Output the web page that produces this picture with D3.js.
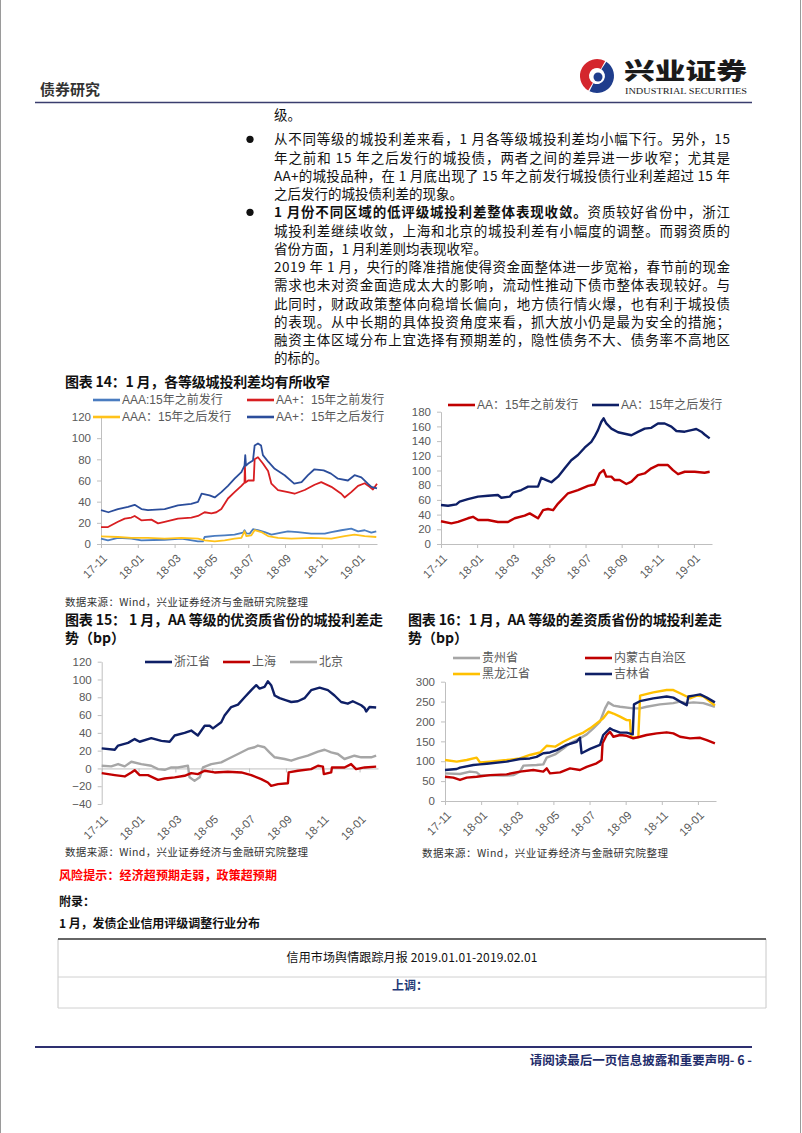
<!DOCTYPE html>
<html><head><meta charset="utf-8">
<script src="https://cdn.jsdelivr.net/npm/d3@7"></script>
<style>
html,body{margin:0;padding:0;background:#fff;}
svg{display:block;}
</style></head>
<body>
<svg id="page" width="802" height="1133"></svg>
<script>
// ---------------- DATA ----------------
// x-axis: month offset from 2017-11 (0) to 2019-02 (15)
const tickMonths = [0, 2, 4, 6, 8, 10, 12, 14];
const tickLabels = ["17-11", "18-01", "18-03", "18-05", "18-07", "18-09", "18-11", "19-01"];

// Chart 14
const aaaBefore = [[0,5],[0.38,3.5],[0.92,5.7],[1.65,5],[2.19,3.5],[3.46,4],[4.37,5],[5.27,2.5],[5.54,2.5],[5.63,6.6],[6.18,7.6],[6.72,8.2],[7.26,8.8],[7.72,10.7],[7.8,13],[7.9,10],[8.08,9.8],[8.26,14],[8.53,13],[8.9,11.3],[9.26,8.8],[9.8,10.7],[10.16,12],[10.7,11.3],[11.43,9.8],[12.16,9.8],[12.52,11.3],[13.06,13],[13.6,14.5],[13.97,12],[14.33,13],[14.69,10.7],[14.96,12]];
const aaPlusBefore = [[0,16],[0.38,16],[0.92,21],[1.29,24],[1.65,25],[1.83,26.5],[2.19,22.4],[2.74,23],[3.1,19.5],[3.46,21],[4.18,24],[4.91,25],[5.27,26.5],[5.63,30],[6.0,29],[6.27,30],[6.54,33],[6.9,43],[7.26,49],[7.63,55],[7.8,58],[7.82,75],[7.85,58],[8.0,60],[8.3,60],[8.35,80],[8.53,82],[8.8,76],[9.08,69],[9.26,57],[9.62,51],[10.16,49],[10.52,47.5],[11.07,51],[11.61,56],[11.97,58.5],[12.52,54],[13.06,47.5],[13.24,44],[13.6,49],[13.97,55],[14.33,57.4],[14.6,54],[14.78,51.5],[15,57]];
const aaaAfter = [[0,7.2],[0.92,6.6],[1.65,5.7],[2.55,5.7],[3.46,5],[4.37,5.7],[5.27,5],[5.63,3.5],[6.18,2.5],[6.72,3.5],[7.26,5],[7.63,5.7],[7.8,12],[7.9,7.5],[8.17,8.2],[8.35,13],[8.71,11.3],[9.08,7.5],[9.62,5.7],[10.34,5],[11.43,5.7],[12.52,5],[13.24,7.5],[13.78,8.8],[14.33,7.5],[14.96,6.6]];
const aaPlusAfter = [[0,32],[0.4,30],[0.92,33],[1.47,35],[1.83,37],[2.2,33],[2.55,32],[3.46,33],[4.18,36.5],[4.9,38],[5.27,39.7],[5.47,47.5],[5.9,46],[6.18,44],[6.54,49],[6.9,55],[7.26,61.7],[7.63,68],[7.8,74],[7.84,84],[7.88,74],[8.0,76],[8.26,79],[8.35,93],[8.53,95],[8.7,93],[8.8,84],[9.1,77.5],[9.44,71],[9.98,65],[10.5,57],[10.9,58.5],[11.25,65],[11.6,70.6],[12.1,69.6],[12.5,66.5],[12.88,61.7],[13.42,60],[13.78,65],[14.15,63],[14.5,57],[14.7,54],[15,52.5]];

// Top-right chart (AA)
const aaBefore = [[0,31],[0.57,28],[0.94,30],[1.49,35],[1.77,37],[2.05,32.6],[2.6,32.6],[3.15,30],[3.71,30],[4.08,35],[4.63,38.5],[4.91,41.7],[5.37,35],[5.65,46],[5.92,47.6],[6.2,46],[6.48,55],[7.03,69],[7.58,73.4],[8.14,79],[8.5,81],[8.78,96],[9.0,100.6],[9.15,91.6],[9.43,91.6],[9.61,87],[9.89,87],[10.26,81.6],[10.54,84.8],[10.9,93.8],[11.27,96],[11.64,103],[12.01,107.4],[12.56,107.4],[12.84,100.6],[13.12,95],[13.49,98.3],[14.04,98.3],[14.59,97],[14.87,98.3]];
const aaAfter = [[0,53],[0.39,52],[0.85,54],[1.03,57.6],[1.49,61],[2.05,64.4],[2.6,65.7],[3.15,66.6],[3.34,63],[3.8,64.4],[3.99,70],[4.45,73.4],[4.82,78],[5.37,78],[5.55,90],[5.83,87],[6.11,84],[6.48,91.6],[6.85,103],[7.21,114],[7.58,121],[7.95,131],[8.32,139],[8.5,146],[8.69,155],[8.87,166],[9.0,171],[9.15,164],[9.43,157],[9.8,152],[10.17,150],[10.54,148],[10.9,152.6],[11.27,157],[11.64,158],[12.01,164],[12.38,164],[12.75,159.6],[13.03,153.7],[13.49,152.8],[13.86,155],[14.13,156.4],[14.41,152.8],[14.59,149],[14.87,143.7]];

// Chart 15
const zhejiang = [[0,22.6],[0.71,21],[0.89,25.7],[1.43,28.7],[1.79,33],[2.06,30],[2.69,34],[3.24,31],[3.69,30],[3.96,37],[4.5,40],[4.86,42.6],[5.22,37],[5.59,48],[5.86,48],[6.04,45],[6.49,52],[6.67,59.6],[7.03,69],[7.4,71.7],[7.76,80],[8.12,88],[8.39,93.6],[8.57,89.8],[8.84,91.7],[9.02,98],[9.2,93.6],[9.39,82],[9.66,79],[10.02,76.6],[10.29,74.7],[10.65,75.5],[11.01,79],[11.37,88],[11.83,90.9],[12.28,88],[12.64,82],[13.0,74.7],[13.36,72.8],[13.63,75.5],[14.09,71],[14.27,68],[14.36,64],[14.54,69],[14.9,68.5]];
const shanghai = [[0,-5.3],[0.71,-7.5],[1.25,-9],[1.61,-4.5],[1.79,-2],[2.06,-7.5],[2.51,-7.5],[3.06,-12.8],[3.42,-11.3],[3.96,-10],[4.5,-8.3],[4.86,-5.3],[5.22,-6.4],[5.59,-2.6],[6.13,-4.5],[6.85,-3.8],[7.58,-4.5],[8.12,-7.5],[8.66,-12],[9.02,-15.8],[9.2,-19.6],[9.57,-17.7],[10.11,-16.6],[10.15,-4.5],[10.65,-2.6],[11.37,-0.8],[11.74,3],[12.01,2],[12.06,-6.4],[12.46,-4.5],[12.5,1.1],[13.18,1.1],[13.54,4.9],[13.81,-0.8],[14.27,1.1],[14.9,2]];
const beijing = [[0,3],[0.52,2.3],[0.89,4.9],[1.25,2.3],[1.61,7.5],[2.15,4.9],[2.69,3],[3.06,-0.8],[3.42,-1.5],[3.78,1.1],[4.14,1.1],[4.68,3],[4.77,-10],[5.04,-14],[5.32,-10],[5.5,1.1],[5.95,4.9],[6.49,6.8],[6.85,10.6],[7.4,16.2],[7.94,21.9],[8.3,23.8],[8.48,25.7],[8.84,23.8],[9.11,18],[9.39,12.5],[9.93,10.6],[10.29,8.7],[10.65,11.3],[11.19,14.3],[11.74,18.9],[12.1,21],[12.46,18],[12.82,16.2],[13.18,10.6],[13.72,14.3],[14.09,12.5],[14.63,12.5],[14.9,14.3]];

// Chart 16
const guizhou = [[0,69.5],[0.83,68],[1.38,74],[1.75,72],[1.94,65],[3.23,63.7],[3.78,65],[4.15,74],[4.34,89],[5.07,90.5],[5.44,92],[5.63,109],[6.09,117],[6.55,132],[6.92,145],[7.47,157.6],[7.84,167.6],[8.21,182.7],[8.58,199.5],[8.86,233],[9.04,248],[9.32,240],[9.69,237],[10.42,233],[10.79,233],[11.16,237],[11.9,243],[12.64,246],[13.0,250],[13.38,246],[13.75,248],[14.3,246],[14.94,237]];
const neimenggu = [[0,61],[0.46,58.7],[0.83,53],[1.2,58.7],[1.75,61],[2.49,65],[3.41,67],[4.15,74],[4.89,78],[5.44,74],[5.63,82],[5.81,69.5],[6.37,72],[6.92,82],[7.47,78],[7.84,86],[8.39,94.7],[8.67,103],[8.72,145],[8.95,166],[9.13,174],[9.32,161.5],[9.69,166],[10.06,164],[10.42,157.6],[10.79,161.5],[11.16,166],[11.72,170],[12.27,172.7],[12.64,170],[13.01,161.5],[13.56,157.6],[14.12,159],[14.49,153],[14.94,145]];
const heilongjiang = [[0,103],[0.65,99],[1.2,103],[1.75,109],[1.94,97],[2.49,99],[3.41,103],[4.15,107],[4.7,115.7],[5.26,122],[5.63,139],[6.09,136.6],[6.55,149],[7.1,161.5],[7.66,172],[8.03,182.7],[8.39,195],[8.76,208],[9.04,224.6],[9.32,220],[9.69,212],[10.06,203.5],[10.24,203],[10.3,160],[10.7,160],[10.8,265],[11.53,273],[12.27,279],[12.64,279],[13.01,271],[13.38,262.7],[13.56,258],[13.93,265],[14.3,263],[14.94,240]];
const jilin = [[0,78],[0.65,80.5],[0.83,84],[1.57,90.5],[1.94,92],[2.31,93.8],[3.41,99],[4.15,105.6],[4.7,107],[5.07,111],[5.44,120],[5.81,122],[6.18,128],[6.73,141],[7.29,149],[7.47,159],[7.56,120],[8.03,131],[8.58,141],[8.76,166],[9.13,182.7],[9.32,178],[9.69,172],[10.06,172],[10.39,167.6],[10.46,243],[10.79,251],[11.53,258],[12.27,262.7],[12.64,260],[13.01,250],[13.38,241],[13.47,262.7],[13.75,265],[14.12,268],[14.49,260],[14.94,248]];

// Body text
const bodyLines = [
  {t:"级。", j:false},
  {t:"从不同等级的城投利差来看，1 月各等级城投利差均小幅下行。另外，15", j:true, bullet:true},
  {t:"年之前和 15 年之后发行的城投债，两者之间的差异进一步收窄；尤其是", j:true},
  {t:"AA+的城投品种，在 1 月底出现了 15 年之前发行城投债行业利差超过 15 年", j:true},
  {t:"之后发行的城投债利差的现象。", j:false},
  {b:"1 月份不同区域的低评级城投利差整体表现收敛。", t:"资质较好省份中，浙江", j:true, bullet:true},
  {t:"城投利差继续收敛，上海和北京的城投利差有小幅度的调整。而弱资质的", j:true},
  {t:"省份方面，1 月利差则均表现收窄。", j:false},
  {t:"2019 年 1 月，央行的降准措施使得资金面整体进一步宽裕，春节前的现金", j:true},
  {t:"需求也未对资金面造成太大的影响，流动性推动下债市整体表现较好。与", j:true},
  {t:"此同时，财政政策整体向稳增长偏向，地方债行情火爆，也有利于城投债", j:true},
  {t:"的表现。从中长期的具体投资角度来看，抓大放小仍是最为安全的措施；", j:true},
  {t:"融资主体区域分布上宜选择有预期差的，隐性债务不大、债务率不高地区", j:true},
  {t:"的标的。", j:false}
];

// ---------------- DRAW ----------------
const svg = d3.select("#page");
const CJK = "'Noto Sans CJK SC','Noto Sans CJK JP',sans-serif";
const LAT = "'Liberation Sans','Noto Sans CJK SC',sans-serif";

// page borders
svg.append("line").attr("x1",0.5).attr("x2",0.5).attr("y1",0).attr("y2",1133).attr("stroke","#9a9a9a").attr("stroke-width",1);
svg.append("line").attr("x1",800.5).attr("x2",800.5).attr("y1",0).attr("y2",1133).attr("stroke","#9a9a9a").attr("stroke-width",1);

// header
svg.append("text").attr("x",40).attr("y",95).attr("font-family",CJK).attr("font-weight","bold")
  .attr("font-size",15).attr("fill","#333").text("债券研究");
svg.append("line").attr("x1",35).attr("x2",752).attr("y1",102.5).attr("y2",102.5).attr("stroke","#3a3d6e").attr("stroke-width",1.6);

// logo
const lg = svg.append("g").attr("transform","translate(597,76)");
lg.append("path").attr("d", d3.arc()({innerRadius:8, outerRadius:17, startAngle:-2.6, endAngle:0.5})).attr("fill","#d4262d");
lg.append("path").attr("d", d3.arc()({innerRadius:8, outerRadius:17, startAngle:0.58, endAngle:3.6})).attr("fill","#1f3d8c");
lg.append("circle").attr("r",4.5).attr("cx",1).attr("cy",1).attr("fill","#1f3d8c");
svg.append("text").attr("x",624).attr("y",79).attr("font-family",CJK).attr("font-weight",900)
  .attr("font-size",23).attr("fill","#1a1a1a").attr("textLength",123).attr("lengthAdjust","spacingAndGlyphs").text("兴业证券");
svg.append("text").attr("x",625).attr("y",94).attr("font-family","'Liberation Serif',serif")
  .attr("font-size",7.5).attr("fill","#1a1a1a").attr("textLength",122).attr("lengthAdjust","spacingAndGlyphs").text("INDUSTRIAL SECURITIES");

// body text
bodyLines.forEach((l, i) => {
  const cy = i === 0 ? 115 : 139.3 + (i - 1) * 18.25;
  const tx = svg.append("text").attr("x",274).attr("y",cy+5).attr("font-family",CJK).attr("font-size",13.5).attr("fill","#111");
  if (l.j) tx.attr("textLength",456).attr("lengthAdjust","spacing");
  if (l.b) tx.append("tspan").attr("font-weight","bold").text(l.b);
  tx.append("tspan").text(l.t);
  if (l.bullet) svg.append("circle").attr("cx",250).attr("cy",cy).attr("r",3.6).attr("fill","#111");
});

// titles & sources
function title(x, y, txt, len) {
  const t = svg.append("text").attr("x",x).attr("y",y).attr("font-family",CJK).attr("font-weight","bold")
    .attr("font-size",14).attr("fill","#111").text(txt);
  if (len) t.attr("textLength",len).attr("lengthAdjust","spacing");
}
function source(x, y, len) {
  svg.append("text").attr("x",x).attr("y",y).attr("font-family",CJK).attr("font-size",10.5).attr("fill","#333")
    .attr("textLength",len).attr("lengthAdjust","spacing").text("数据来源：Wind，兴业证券经济与金融研究院整理");
}
title(65, 387, "图表 14：1 月，各等级城投利差均有所收窄", 265);
source(65, 606, 243);
title(65, 625, "图表 15：  1 月，AA 等级的优资质省份的城投利差走", 318);
title(65, 643, "势（bp）");
title(408, 625, "图表 16：1 月，AA 等级的差资质省份的城投利差走", 314);
title(408, 643, "势（bp）");
source(65, 856, 243);
source(422, 857, 246);

// chart drawing helper
function drawChart(cfg) {
  const g = svg.append("g");
  const x = d3.scaleLinear().domain([0,15]).range([cfg.x0, cfg.x1]);
  const y = d3.scaleLinear().domain(cfg.yDomain).range([cfg.yBottom, cfg.yTop]);
  const axisColor = "#bfbfbf";
  const ya = g.append("g").attr("transform",`translate(${cfg.x0},0)`)
    .call(d3.axisLeft(y).tickValues(cfg.yTicks).tickSize(4).tickSizeOuter(0).tickPadding(6));
  ya.select(".domain").attr("stroke",axisColor);
  ya.selectAll(".tick line").attr("stroke",axisColor);
  ya.selectAll("text").attr("font-family",LAT).attr("font-size",11.5).attr("fill","#595959");
  const y0 = y(cfg.xAxisAt);
  const xa = g.append("g").attr("transform",`translate(0,${y0})`)
    .call(d3.axisBottom(x).tickValues(tickMonths).tickSize(4).tickSizeOuter(0).tickFormat(""));
  xa.select(".domain").attr("stroke",axisColor);
  xa.selectAll(".tick line").attr("stroke",axisColor);
  g.selectAll(".xl").data(tickMonths).enter().append("text")
    .attr("transform", (d,i) => `translate(${x(d)+4},${cfg.labelY}) rotate(-45)`)
    .attr("text-anchor","end").attr("dy","0.35em")
    .attr("font-family",LAT).attr("font-size",11.5).attr("fill","#595959")
    .text((d,i) => tickLabels[i]);
  const line = d3.line().x(d => x(d[0])).y(d => y(d[1]));
  cfg.series.forEach(s => {
    g.append("path").datum(s.data).attr("d",line).attr("fill","none")
      .attr("stroke",s.color).attr("stroke-width",s.w).attr("stroke-linejoin","round");
  });
  cfg.legend.forEach(l => {
    g.append("line").attr("x1",l.x).attr("x2",l.x+27).attr("y1",l.y).attr("y2",l.y)
      .attr("stroke",l.color).attr("stroke-width",2.6);
    g.append("text").attr("x",l.x+29).attr("y",l.y).attr("dy","0.35em")
      .attr("font-family",LAT).attr("font-size",12).attr("fill","#595959").text(l.label);
  });
}

drawChart({
  x0:101, x1:377, yTop:417, yBottom:544, yDomain:[0,120], yTicks:d3.range(0,121,20), xAxisAt:0, labelY:556,
  series:[
    {data:aaaBefore, color:"#4a7cc0", w:1.8},
    {data:aaaAfter, color:"#ffc21a", w:1.8},
    {data:aaPlusBefore, color:"#d81e21", w:1.8},
    {data:aaPlusAfter, color:"#2b4d9b", w:1.8}
  ],
  legend:[
    {x:93, y:400, color:"#4a7cc0", label:"AAA:15年之前发行"},
    {x:247, y:400, color:"#d81e21", label:"AA+：15年之前发行"},
    {x:93, y:417, color:"#ffc21a", label:"AAA：15年之后发行"},
    {x:247, y:417, color:"#2b4d9b", label:"AA+：15年之后发行"}
  ]
});

drawChart({
  x0:441, x1:712, yTop:411.7, yBottom:544, yDomain:[0,180], yTicks:d3.range(0,181,20), xAxisAt:0, labelY:556,
  series:[
    {data:aaBefore, color:"#c00000", w:2.4},
    {data:aaAfter, color:"#0e1f66", w:2.4}
  ],
  legend:[
    {x:448, y:405, color:"#c00000", label:"AA：15年之前发行"},
    {x:592, y:405, color:"#0e1f66", label:"AA：15年之后发行"}
  ]
});

drawChart({
  x0:101.7, x1:378, yTop:661.7, yBottom:804, yDomain:[-40,120], yTicks:d3.range(-40,121,20), xAxisAt:0, labelY:817,
  series:[
    {data:beijing, color:"#a6a6a6", w:2.4},
    {data:shanghai, color:"#c00000", w:2.4},
    {data:zhejiang, color:"#0e1f66", w:2.4}
  ],
  legend:[
    {x:145, y:662, color:"#0e1f66", label:"浙江省"},
    {x:223, y:662, color:"#c00000", label:"上海"},
    {x:290, y:662, color:"#a6a6a6", label:"北京"}
  ]
});

drawChart({
  x0:445, x1:716, yTop:681.7, yBottom:801, yDomain:[0,300], yTicks:d3.range(0,301,50), xAxisAt:0, labelY:813,
  series:[
    {data:guizhou, color:"#a6a6a6", w:2.4},
    {data:heilongjiang, color:"#ffc000", w:2.4},
    {data:neimenggu, color:"#c00000", w:2.4},
    {data:jilin, color:"#0e1f66", w:2.4}
  ],
  legend:[
    {x:453, y:658, color:"#a6a6a6", label:"贵州省"},
    {x:585, y:658, color:"#c00000", label:"内蒙古自治区"},
    {x:453, y:674, color:"#ffc000", label:"黑龙江省"},
    {x:585, y:674, color:"#0e1f66", label:"吉林省"}
  ]
});

// risk & appendix
svg.append("text").attr("x",59).attr("y",880).attr("font-family",CJK).attr("font-weight","bold").attr("font-size",12)
  .attr("fill","#ff0000").attr("textLength",218).attr("lengthAdjust","spacing").text("风险提示：经济超预期走弱，政策超预期");
svg.append("text").attr("x",59).attr("y",906).attr("font-family",CJK).attr("font-weight","bold").attr("font-size",12)
  .attr("fill","#111").text("附录：");
svg.append("text").attr("x",59).attr("y",927.5).attr("font-family",CJK).attr("font-weight","bold").attr("font-size",12)
  .attr("fill","#111").attr("textLength",201).attr("lengthAdjust","spacing").text("1 月，发债企业信用评级调整行业分布");

// table
svg.append("line").attr("x1",58).attr("x2",58).attr("y1",939).attr("y2",1008).attr("stroke","#c8c8c8");
svg.append("line").attr("x1",766).attr("x2",766).attr("y1",939).attr("y2",1008).attr("stroke","#c8c8c8");
svg.append("line").attr("x1",58).attr("x2",766).attr("y1",977).attr("y2",977).attr("stroke","#d0d0d0");
svg.append("line").attr("x1",58).attr("x2",766).attr("y1",1008).attr("y2",1008).attr("stroke","#d0d0d0");
svg.append("line").attr("x1",58).attr("x2",766).attr("y1",939).attr("y2",939).attr("stroke","#333").attr("stroke-width",1.5);
svg.append("text").attr("x",412).attr("y",962).attr("text-anchor","middle").attr("font-family",CJK).attr("font-size",12)
  .attr("fill","#111").attr("textLength",251).attr("lengthAdjust","spacing").text("信用市场舆情跟踪月报 2019.01.01-2019.02.01");
svg.append("text").attr("x",410).attr("y",990).attr("text-anchor","middle").attr("font-family",CJK).attr("font-weight","bold")
  .attr("font-size",12).attr("fill","#1f3a78").text("上调：");

// footer
svg.append("line").attr("x1",35).attr("x2",752).attr("y1",1047).attr("y2",1047).attr("stroke","#2e3070").attr("stroke-width",2);
svg.append("text").attr("x",752).attr("y",1065).attr("text-anchor","end").attr("font-family",CJK).attr("font-weight","bold")
  .attr("font-size",12.5).attr("fill","#1f2d6b").text("请阅读最后一页信息披露和重要声明- 6 -");
</script>
</body></html>
